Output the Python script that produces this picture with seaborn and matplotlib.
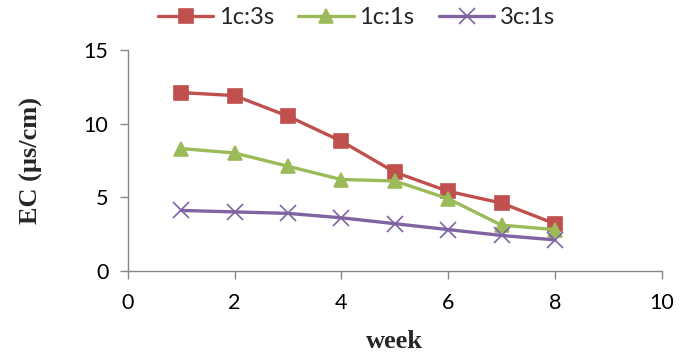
import matplotlib
matplotlib.use("Agg")
import matplotlib.pyplot as plt
import seaborn as sns
import pandas as pd

weeks = [1, 2, 3, 4, 5, 6, 7, 8]
s_1c3s = [12.1, 11.9, 10.5, 8.8, 6.7, 5.4, 4.6, 3.2]
s_1c1s = [8.3, 8.0, 7.1, 6.2, 6.1, 4.9, 3.1, 2.8]
s_3c1s = [4.1, 4.0, 3.9, 3.6, 3.2, 2.8, 2.4, 2.1]
series_names = ["1c:3s", "1c:1s", "3c:1s"]

sns.set_style("white")
plt.rcParams["font.family"] = ["Lato", "DejaVu Sans"]

fig = plt.figure(figsize=(6.8, 3.54), dpi=100)
ax = fig.add_axes([0.188, 0.235, 0.785, 0.624])

colors = ["#C0504D", "#9BBB59", "#8064A2"]
marks = ["s", "^", "x"]
sizes = [10, 10, 11]
for name, vals, col, mk, ms in zip(series_names, [s_1c3s, s_1c1s, s_3c1s], colors, marks, sizes):
    d = pd.DataFrame({"week": weeks, "EC": vals})
    sns.lineplot(data=d, x="week", y="EC", color=col, marker=mk, markersize=ms,
                 markeredgewidth=1.2, markeredgecolor=col, linewidth=2.4,
                 label=name, ax=ax)

ax.set_xlim(0, 10)
ax.set_ylim(0, 15)
ax.set_xticks([0, 2, 4, 6, 8, 10])
ax.set_yticks([0, 5, 10, 15])
ax.tick_params(axis="both", labelsize=15.5, labelcolor="black", length=6, width=1,
               direction="out", color="#888888")
ax.tick_params(axis="y", pad=8)
ax.tick_params(axis="x", pad=10)
ax.xaxis.set_ticks_position("bottom")
ax.yaxis.set_ticks_position("left")
for side in ["top", "right"]:
    ax.spines[side].set_visible(False)
for side in ["left", "bottom"]:
    ax.spines[side].set_color("#888888")
    ax.spines[side].set_linewidth(1)

ax.set_xlabel("week", fontsize=19, fontweight="bold", family=["Liberation Serif"], labelpad=12)
ax.set_ylabel("EC (\u00b5s/cm)", fontsize=19, fontweight="bold", family=["Liberation Serif"], labelpad=29)

handles, labels = ax.get_legend_handles_labels()
ax.legend(handles, labels, loc="center", bbox_to_anchor=(0.428, 1.145), ncol=3,
          frameon=False, fontsize=17, handlelength=2.35, columnspacing=1.05,
          handletextpad=0.22, borderaxespad=0.0, borderpad=0.0)

fig.savefig("out.png", dpi=100)
